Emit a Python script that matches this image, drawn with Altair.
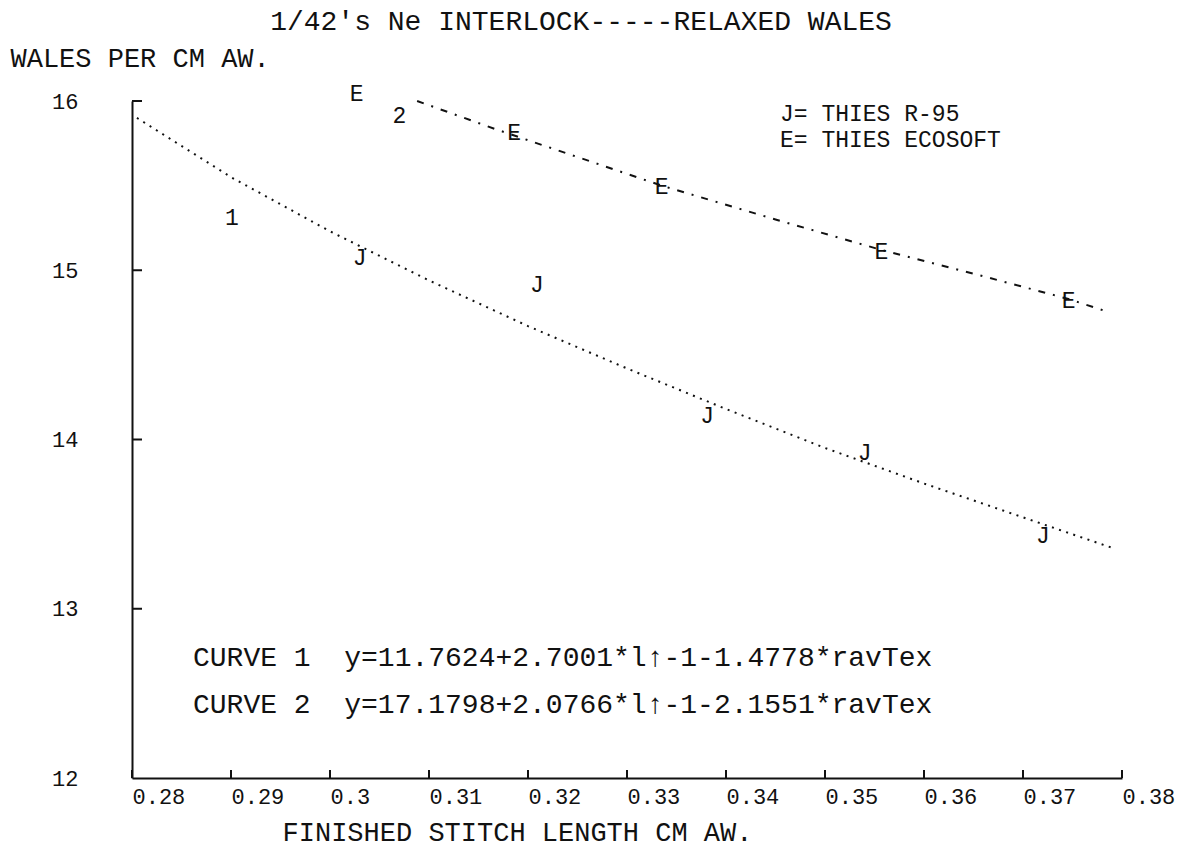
import altair as alt
import pandas as pd

# ---- data ----
j_x = [0.3030, 0.3209, 0.3381, 0.3540, 0.3720]
j_y = [15.07, 14.91, 14.14, 13.92, 13.43]
e_x = [0.3027, 0.3186, 0.3335, 0.3557, 0.3746]
e_y = [16.04, 15.81, 15.49, 15.11, 14.82]
tag_x = [0.2901, 0.3070]
tag_y = [15.31, 15.91]
tag_text = ["1", "2"]

curve1_x = [0.2805, 0.29, 0.30, 0.31, 0.32, 0.33, 0.34, 0.35, 0.36, 0.37, 0.379]
curve1_y = [15.90, 15.55, 15.23, 14.94, 14.67, 14.42, 14.18, 13.95, 13.74, 13.54, 13.36]
curve2_x = [0.3088, 0.3169, 0.3335, 0.345, 0.3557, 0.365, 0.3746, 0.3788]
curve2_y = [16.00, 15.83, 15.50, 15.30, 15.12, 14.98, 14.83, 14.75]

x_ticks = [0.28, 0.29, 0.30, 0.31, 0.32, 0.33, 0.34, 0.35, 0.36, 0.37, 0.38]
y_ticks = [12, 13, 14, 15, 16]

title_text = "1/42's Ne INTERLOCK-----RELAXED WALES"
y_title = "WALES PER CM AW."
x_title = "FINISHED STITCH LENGTH CM AW."
legend_lines = ["J= THIES R-95", "E= THIES ECOSOFT"]
curve_lines = [
    "CURVE 1\u00a0\u00a0y=11.7624+2.7001*l\u2191\ufe0e-1-1.4778*ravTex",
    "CURVE 2\u00a0\u00a0y=17.1798+2.0766*l\u2191\ufe0e-1-2.1551*ravTex",
]

FONT = "'Liberation Mono', 'DejaVu Sans Mono', monospace"
INK = "#111111"
W, H = 990, 677

xs = alt.Scale(domain=[0.28, 0.38], nice=False, zero=False)
ys = alt.Scale(domain=[12, 16], nice=False, zero=False)

x_axis = alt.Axis(
    values=x_ticks, format=".2~f", ticks=False, grid=False,
    labelAlign="left", labelBaseline="top", labelPadding=8,
    labelFlush=False, labelOverlap=False, labelBound=False,
    labelFont=FONT, labelFontSize=22, labelColor=INK,
    domainColor=INK, domainWidth=2,
    title=x_title, titleFont=FONT, titleFontSize=27, titleFontWeight="normal",
    titleColor=INK, titleX=385, titleY=54, titleAlign="center",
    titleBaseline="middle",
)
y_axis = alt.Axis(
    values=y_ticks, ticks=False, grid=False,
    labelAlign="right", labelBaseline="middle", labelPadding=54,
    labelFlush=False, labelOverlap=False,
    labelFont=FONT, labelFontSize=22, labelColor=INK,
    domainColor=INK, domainWidth=2,
    title=y_title, titleFont=FONT, titleFontSize=27, titleFontWeight="normal",
    titleColor=INK, titleAngle=0, titleX=-122, titleY=-43, titleAlign="left",
    titleBaseline="middle",
)


def X(field="x"):
    return alt.X(f"{field}:Q", scale=xs, axis=x_axis)


def Y(field="y"):
    return alt.Y(f"{field}:Q", scale=ys, axis=y_axis)


c1 = pd.DataFrame({"x": curve1_x, "y": curve1_y})
c2 = pd.DataFrame({"x": curve2_x, "y": curve2_y})
pts = pd.DataFrame({
    "x": j_x + e_x + tag_x,
    "y": j_y + e_y + tag_y,
    "t": ["J"] * len(j_x) + ["E"] * len(e_x) + tag_text,
})

line1 = alt.Chart(c1).mark_line(
    color=INK, strokeWidth=2, strokeDash=[2, 5.5], strokeCap="butt"
).encode(x=X(), y=Y())

line2 = alt.Chart(c2).mark_line(
    color=INK, strokeWidth=2, strokeDash=[7, 8, 2, 8], strokeCap="butt"
).encode(x=X(), y=Y())

marks = alt.Chart(pts).mark_text(
    font=FONT, fontSize=23, color=INK, align="center", baseline="middle"
).encode(x=X(), y=Y(), text="t:N")

xt = alt.Chart(pd.DataFrame({"x": x_ticks})).mark_rule(color=INK, strokeWidth=2).encode(
    x=X(), y=alt.value(H), y2=alt.value(H - 8)
)
yt = alt.Chart(pd.DataFrame({"y": y_ticks[1:]})).mark_rule(color=INK, strokeWidth=2).encode(
    y=Y(), x=alt.value(0), x2=alt.value(10)
)

one = pd.DataFrame({"a": [0]})


def label(text, px, py, size=28, align="left"):
    return alt.Chart(one).mark_text(
        text=text, font=FONT, fontSize=size, color=INK, align=align, baseline="middle"
    ).encode(x=alt.value(px), y=alt.value(py))


texts = [
    label(title_text, 449, -79, size=28, align="center"),
    label(legend_lines[0], 648, 13, size=23),
    label(legend_lines[1], 648, 39, size=23),
    label(curve_lines[0], 61, 557, size=28),
    label(curve_lines[1], 61, 604, size=28),
]

chart = alt.layer(line1, line2, marks, xt, yt, *texts).properties(
    width=W, height=H,
    autosize=alt.AutoSizeParams(type="none"),
    padding={"left": 132, "top": 101, "right": 70, "bottom": 69},
    background="white",
).configure_view(stroke=None)

chart.save("out.html", embed_options={"renderer": "svg", "actions": False})
